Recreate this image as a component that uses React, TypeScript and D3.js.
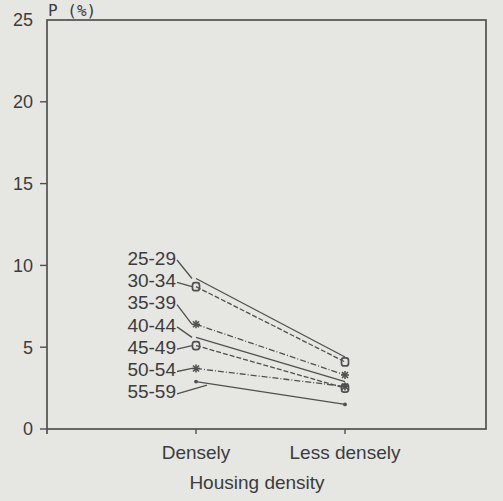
import React from 'react';
import * as d3 from 'd3';

// categories on x axis
const densities = ['Densely', 'Less densely'];
// age groups, one line each
const ageGroups = ['25-29', '30-34', '35-39', '40-44', '45-49', '50-54', '55-59'];
// P (%) at Densely / Less densely
const denselyValues = [9.2, 8.7, 6.4, 5.6, 5.1, 3.7, 2.9];
const lessDenselyValues = [4.4, 4.1, 3.3, 2.9, 2.5, 2.6, 1.5];
const markers = ['none', 'circle', 'star', 'none', 'circle', 'star', 'dot'];
const dashes = ['', '5,2', '6,2,1,2', '', '5,2', '6,2,1,2', ''];
const yTicks = [0, 5, 10, 15, 20, 25];

const W = 503;
const H = 501;
const ink = '#505050';
const textInk = '#3c3c3c';
const font = '"Liberation Sans", Arial, sans-serif';

const Marker = ({ type, cx, cy }: { type: string; cx: number; cy: number }) => {
  if (type === 'circle') {
    return <rect x={cx - 3.5} y={cy - 4} width={7} height={8} rx={2.5} fill="none" stroke={ink} strokeWidth={1.7} />;
  }
  if (type === 'star') {
    const s = 4;
    return (
      <g stroke={ink} strokeWidth={1.6}>
        <line x1={cx - s} y1={cy} x2={cx + s} y2={cy} />
        <line x1={cx - 3} y1={cy - 3} x2={cx + 3} y2={cy + 3} />
        <line x1={cx - 3} y1={cy + 3} x2={cx + 3} y2={cy - 3} />
        <line x1={cx} y1={cy - s} x2={cx} y2={cy + s} />
      </g>
    );
  }
  if (type === 'dot') {
    return <circle cx={cx} cy={cy} r={1.9} fill={ink} />;
  }
  return null;
};

export default function App() {
  const left = 47, right = 486, top = 20, bottom = 429;

  const y = d3.scaleLinear().domain([0, 25]).range([bottom, top]);
  const x = d3.scalePoint().domain(densities).range([196, 345]);

  const labelRight = 176;
  const labelTop = 258;
  const labelStep = 22.3;

  return (
    <svg width={W} height={H} style={{ position: 'absolute', left: 0, top: 0, background: '#e6e6e3' }}>
      <rect x={0} y={0} width={W} height={H} fill="#e6e6e3" />
      {/* frame */}
      <rect x={left} y={top} width={right - left} height={bottom - top} fill="none" stroke={ink} strokeWidth={1.7} />
      <line x1={left} y1={bottom} x2={left} y2={bottom + 5} stroke={ink} strokeWidth={1.7} />
      {/* y axis ticks */}
      {yTicks.map(t => (
        <g key={t}>
          {t < 25 && <line x1={left - 7} y1={y(t)} x2={left} y2={y(t)} stroke={ink} strokeWidth={1.4} />}
          <text x={33} y={y(t)} dy="0.35em" textAnchor="end" fontFamily={font} fontSize={18} fill={textInk}>{t}</text>
        </g>
      ))}
      <text x={48} y={16} fontFamily='"DejaVu Sans Mono", monospace' fontSize={16} fill={textInk}>P (%)</text>
      {/* x axis ticks */}
      {densities.map(d => (
        <g key={d}>
          <line x1={x(d)} y1={bottom} x2={x(d)} y2={bottom + 5} stroke={ink} strokeWidth={1.4} />
          <text x={x(d)} y={452} dy="0.35em" textAnchor="middle" fontFamily={font} fontSize={19} fill={textInk}>{d}</text>
        </g>
      ))}
      <text x={257} y={482} dy="0.35em" textAnchor="middle" fontFamily={font} fontSize={19} fill={textInk}>Housing density</text>
      {/* series */}
      {ageGroups.map((g, i) => {
        const x0 = x(densities[0])!, x1 = x(densities[1])!;
        const y0 = y(denselyValues[i]), y1 = y(lessDenselyValues[i]);
        const ly = labelTop + i * labelStep;
        const last = i === ageGroups.length - 1;
        // the last connector points at the line a little right of the point
        const cx = last ? x0 + 11 : x0 - 4;
        const cy = last ? y0 + 11 * (y1 - y0) / (x1 - x0) + 2 : y0;
        return (
          <g key={g}>
            <line x1={x0} y1={y0} x2={x1} y2={y1} stroke={ink} strokeWidth={1.3} strokeDasharray={dashes[i]} />
            <line x1={labelRight + 1} y1={ly + 2} x2={cx} y2={cy} stroke={ink} strokeWidth={1.3} />
            <text x={labelRight} y={ly} dy="0.35em" textAnchor="end" fontFamily={font} fontSize={19} fill={textInk}>{g}</text>
            <Marker type={markers[i]} cx={x0} cy={y0} />
            <Marker type={markers[i]} cx={x1} cy={y1} />
          </g>
        );
      })}
    </svg>
  );
}
